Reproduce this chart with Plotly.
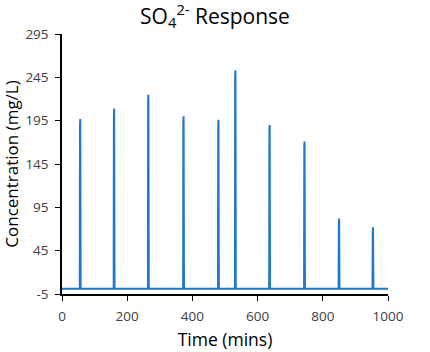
import plotly.graph_objects as go

# Peak data (time in mins, concentration in mg/L)
peak_times = [56, 160, 265, 373, 480, 532, 637, 744, 850, 954]
peak_values = [197, 209, 225, 200, 196, 253, 190, 171, 82, 72]
shoulder_values = [190, 200, 218, 195, 190, 246, 184, 165, 76, 66]
baseline = 1.0

x_ticks = [0, 200, 400, 600, 800, 1000]
y_ticks = [-5, 45, 95, 145, 195, 245, 295]
y_tick_text = ["-5", "45", "95", "145", "195", "245", "295"]

# build the series: baseline, shoulder, peak, baseline around each injection
xs, ys = [0], [baseline]
for t, p, s in zip(peak_times, peak_values, shoulder_values):
    xs += [t - 1.5, t - 0.8, t, t + 1.2]
    ys += [baseline, s, p, baseline]
xs.append(1000)
ys.append(baseline)

fig = go.Figure(go.Scatter(x=xs, y=ys, mode="lines",
                           line=dict(color="#1F78C8", width=2)))

font_family = "Open Sans, Noto Sans, sans-serif"
fig.update_layout(
    width=430, height=352,
    margin=dict(l=62, r=42, t=34, b=58, autoexpand=False),
    plot_bgcolor="white", paper_bgcolor="white",
    showlegend=False,
    title=dict(text="SO<sub>4</sub><sup>2-</sup> Response", x=0.5, xanchor="center",
               y=0.953, yanchor="middle", automargin=False,
               font=dict(family=font_family, size=21, color="black")),
    font=dict(family=font_family, color="#404040"),
)
fig.update_xaxes(range=[0, 1000], tickvals=x_ticks, ticks="outside", ticklen=5,
                 tickcolor="black", showline=True, linecolor="black", linewidth=1.5,
                 showgrid=False, zeroline=False, ticklabelstandoff=4, automargin=False,
                 tickfont=dict(size=13.5, color="#404040"),
                 title=dict(text="Time (mins)", font=dict(size=17.5, color="black"), standoff=10))
fig.update_yaxes(range=[-5, 295], tickvals=y_ticks, ticktext=y_tick_text,
                 ticks="outside", ticklen=5,
                 tickcolor="black", showline=True, linecolor="black", linewidth=1.5,
                 showgrid=False, zeroline=False, ticklabelstandoff=4, automargin=False,
                 tickfont=dict(size=13.5, color="#404040"),
                 title=dict(text="Concentration (mg/L)", font=dict(size=17, color="black"), standoff=4))

fig.write_html("out.html")
